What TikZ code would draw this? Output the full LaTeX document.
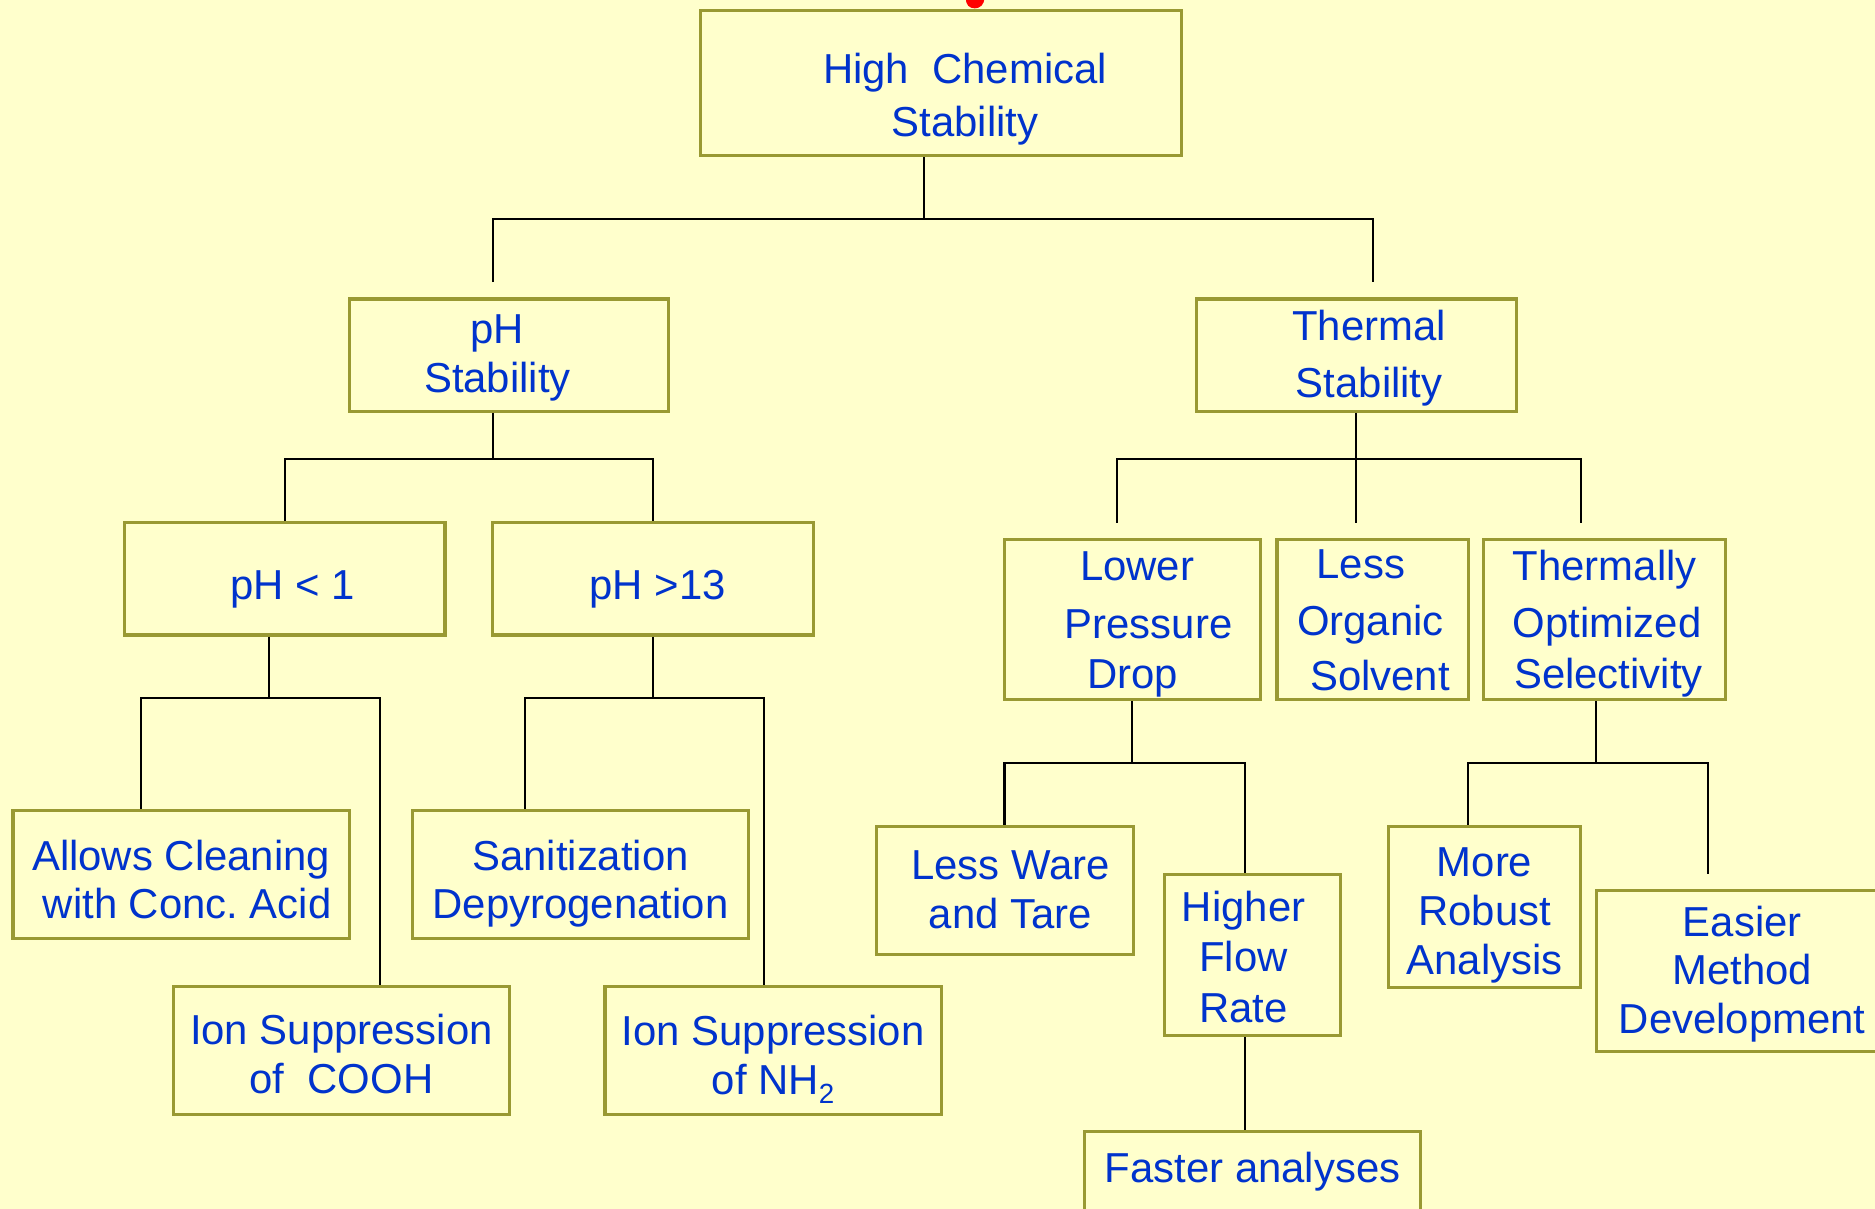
\documentclass[tikz,border=0pt]{standalone}
\usepackage{fontspec}
\setmainfont{Liberation Sans}
\frenchspacing
\definecolor{bg}{RGB}{255,255,204}
\definecolor{boxline}{RGB}{153,153,51}
\definecolor{txtblue}{RGB}{0,51,204}
\definecolor{titlered}{RGB}{255,0,0}
\newcommand\hs[1]{\hspace*{#1}}
\newcommand\ts[1]{\rule{0pt}{#1}}
\newcommand\lowsub[1]{\raisebox{-2.2pt}{\fontsize{6.6pt}{7pt}\selectfont #1}}
\begin{document}
\begin{tikzpicture}[x=0.01cm,y=-0.01cm,
  box/.style={draw=boxline, line width=0.75pt, fill=bg, text=txtblue, align=center,
    inner sep=0pt, font=\fontsize{9.96pt}{11.55pt}\selectfont,
    execute at end node={\rule[-2.2pt]{0pt}{2.2pt}}},
  conn/.style={draw=black, line width=0.5pt}]
\useasboundingbox (0,0) rectangle (1568,1011);
\clip (0,0) rectangle (1568,1011);
\fill[bg] (0,0) rectangle (1568,1011);

% cut-off fragment of a red title above the picture
\fill[titlered] (808,-2) .. controls (806,10) and (824,10) .. (823,-2) -- cycle;

% boxes
\node[box, minimum width=4.02cm, minimum height=1.21cm] (top) at (787,69.5)
  {\ts{15pt}\hs{0.4cm}High\ \ Chemical\\[1pt]\hs{0.4cm}Stability};
\node[box, minimum width=2.67cm, minimum height=0.94cm] (phs) at (425.5,297)
  {\ts{8.2pt}\hs{-0.19cm}pH\\\hs{-0.19cm}Stability};
\node[box, minimum width=2.67cm, minimum height=0.94cm] (ths) at (1134.5,297)
  {\ts{8.8pt}\hs{0.21cm}Thermal\\[2.1pt]\hs{0.21cm}Stability};
\node[box, minimum width=2.68cm, minimum height=0.94cm] (ph1) at (238,484)
  {\ts{12.2pt}\hs{0.14cm}pH < 1};
\node[box, minimum width=2.68cm, minimum height=0.94cm] (ph13) at (546,484)
  {\ts{12.2pt}\hs{0.08cm}pH >13};
\node[box, minimum width=2.14cm, minimum height=1.34cm] (lpd) at (947,518)
  {\ts{9.33pt}\hs{0.08cm}Lower\\[2.1pt]\hs{0.27cm}Pressure\\[0.35pt]Drop};
\node[box, minimum width=1.60cm, minimum height=1.34cm] (los) at (1148,518)
  {\ts{9.33pt}\hs{-0.2cm}Less\\[1.9pt]\hs{-0.04cm}Organic\\[1.55pt]\hs{0.12cm}Solvent};
\node[box, minimum width=2.02cm, minimum height=1.34cm] (tos) at (1342,518)
  {\ts{9.33pt}Thermally\\[2.1pt]\hs{0.04cm}Optimized\\[0.6pt]\hs{0.06cm}Selectivity};
\node[box, minimum width=2.81cm, minimum height=1.07cm] (acl) at (151.5,731.5)
  {\ts{11.6pt}Allows Cleaning\\\hs{0.1cm}with Conc. Acid};
\node[box, minimum width=2.81cm, minimum height=1.07cm] (cooh) at (285.5,878.5)
  {\ts{11.0pt}Ion Suppression\\of\ \ COOH};
\node[box, minimum width=2.81cm, minimum height=1.07cm] (san) at (485.5,731.5)
  {\ts{11.6pt}Sanitization\\Depyrogenation};
\node[box, minimum width=2.81cm, minimum height=1.07cm] (nh2) at (646.5,878.5)
  {\ts{11.6pt}Ion Suppression\\of NH\lowsub{2}};
\node[box, minimum width=2.15cm, minimum height=1.07cm] (lwt) at (840.5,744.5)
  {\ts{8.8pt}\hs{0.09cm}Less Ware\\\hs{0.09cm}and Tare};
\node[box, minimum width=1.47cm, minimum height=1.35cm] (hfr) at (1047.5,798.5)
  {\ts{10.47pt}\hs{-0.15cm}Higher\\[0.3pt]\hs{-0.15cm}Flow\\[0.5pt]\hs{-0.15cm}Rate};
\node[box, anchor=north, minimum width=2.81cm, inner ysep=0.057cm, text depth=0.8cm,
  execute at end node={}] (fan) at (1047.5,945) {\ts{10.47pt}Faster analyses};
\node[box, minimum width=1.61cm, minimum height=1.35cm] (mra) at (1241.5,758.5)
  {\ts{11.0pt}More\\Robust\\Analysis};
\node[box, minimum width=2.44cm, minimum height=1.34cm] (emd) at (1457,812)
  {\ts{8.8pt}Easier\\Method\\Development};

% junctions and free ends
\coordinate (j0) at (773,183);
\coordinate (j0l) at (412,183);
\coordinate (j0r) at (1148,183);
\coordinate (e0l) at (412,236);
\coordinate (e0r) at (1148,236);
\coordinate (j1) at (412,384);
\coordinate (j1l) at (238,384);
\coordinate (j1r) at (546,384);
\coordinate (j2) at (1134,384);
\coordinate (j2l) at (934,384);
\coordinate (j2r) at (1322,384);
\coordinate (e2l) at (934,437);
\coordinate (e2m) at (1134,437);
\coordinate (e2r) at (1322,437);
\coordinate (j3) at (225,584);
\coordinate (j3l) at (118,584);
\coordinate (j3r) at (318,584);
\coordinate (j4) at (546,584);
\coordinate (j4l) at (439,584);
\coordinate (j4r) at (639,584);
\coordinate (j5) at (947,638);
\coordinate (j5l) at (840,638);
\coordinate (j5r) at (1041,638);
\coordinate (j7) at (1335,638);
\coordinate (j7l) at (1228,638);
\coordinate (j7r) at (1428,638);
\coordinate (e7r) at (1428,731);

% connectors
\draw[conn] (top.south -| j0) -- (j0);
\draw[conn] (e0l) -- (j0l) -- (j0r) -- (e0r);

\draw[conn] (phs.south -| j1) -- (j1);
\draw[conn] (ph1.north -| j1l) -- (j1l) -- (j1r) -- (ph13.north -| j1r);

\draw[conn] (ths.south -| j2) -- (e2m);
\draw[conn] (e2l) -- (j2l) -- (j2r) -- (e2r);

\draw[conn] (ph1.south -| j3) -- (j3);
\draw[conn] (acl.north -| j3l) -- (j3l) -- (j3r) -- (cooh.north -| j3r);

\draw[conn] (ph13.south -| j4) -- (j4);
\draw[conn] (san.north -| j4l) -- (j4l) -- (j4r) -- (nh2.north -| j4r);

\draw[conn] (lpd.south -| j5) -- (j5);
\draw[conn] (lwt.north -| j5l) -- (j5l) -- (j5r) -- (hfr.north -| j5r);
\draw[conn] (hfr.south -| j5r) -- (fan.north -| j5r);

\draw[conn] (tos.south -| j7) -- (j7);
\draw[conn] (mra.north -| j7l) -- (j7l) -- (j7r) -- (e7r);
\end{tikzpicture}
\end{document}
